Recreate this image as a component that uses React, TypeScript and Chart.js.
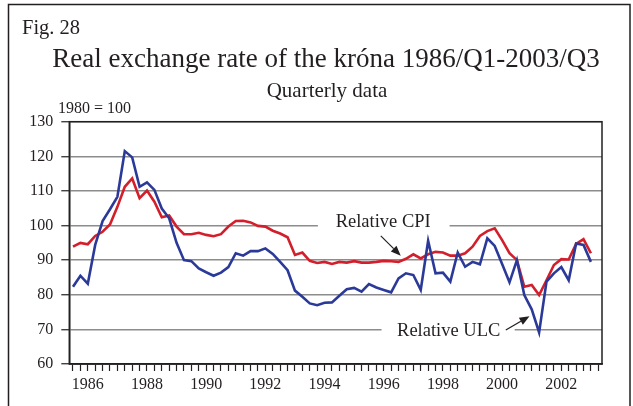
import React, { useEffect, useRef } from 'react';
import { Chart, registerables } from 'chart.js';

Chart.register(...registerables);

const FONT = '"Liberation Serif", "Times New Roman", serif';
const INK = '#231f20';

const years = [1986, 1987, 1988, 1989, 1990, 1991, 1992, 1993, 1994, 1995, 1996, 1997, 1998, 1999, 2000, 2001, 2002, 2003];
const quarters = ['Q1', 'Q2', 'Q3', 'Q4'];
const shownYears = ['1986', '1988', '1990', '1992', '1994', '1996', '1998', '2000', '2002'];
const yTickValues = [60, 70, 80, 90, 100, 110, 120, 130];

// Relative unit labour cost (blue)
const relativeULC = [
  82.3, 85.5, 83.2, 94.4, 101.3, 104.7, 108.3, 121.5,
  119.7, 111.2, 112.5, 110.3, 104.9, 102.1, 95.0, 90.0,
  89.7, 87.6, 86.5, 85.5, 86.4, 88.0, 92.0, 91.3,
  92.6, 92.6, 93.4, 91.8, 89.5, 87.1, 81.2, 79.4,
  77.5, 77.0, 77.7, 77.8, 79.7, 81.6, 82.0, 80.9,
  83.1, 82.1, 81.4, 80.7, 84.7, 86.2, 85.7, 81.4,
  95.6, 86.2, 86.4, 83.8, 92.2, 88.1, 89.5, 88.8,
  96.3, 94.1, 88.9, 83.6, 90.0, 79.9, 75.8, 69.1,
  83.8, 86.2, 88.0, 84.2, 94.8, 94.4, 89.5, null,
];

// Relative consumer prices (red)
const relativeCPI = [
  93.9, 95.0, 94.6, 97.0, 98.2, 100.3, 105.4, 111.2,
  113.6, 107.9, 110.1, 106.9, 102.4, 102.9, 99.7, 97.5,
  97.5, 97.9, 97.3, 96.9, 97.5, 99.7, 101.3, 101.4,
  100.9, 99.9, 99.7, 98.5, 97.7, 96.6, 91.5, 92.2,
  89.8, 89.2, 89.5, 88.9, 89.5, 89.3, 89.7, 89.3,
  89.3, 89.5, 89.8, 89.7, 89.5, 90.4, 91.7, 90.5,
  91.7, 92.4, 92.2, 91.3, 91.3, 92.0, 93.9, 97.0,
  98.4, 99.2, 95.8, 92.0, 90.0, 82.3, 82.8, 79.9,
  84.2, 88.6, 90.3, 90.2, 94.7, 96.1, 92.0, null,
];

const labels: string[] = [];
years.forEach((yr) => quarters.forEach((q) => labels.push(`${yr}/${q}`)));

function arrow(ctx: CanvasRenderingContext2D, x1: number, y1: number, x2: number, y2: number) {
  const ang = Math.atan2(y2 - y1, x2 - x1);
  const head = 10;
  const half = 4;
  const bx = x2 - head * Math.cos(ang);
  const by = y2 - head * Math.sin(ang);
  ctx.beginPath();
  ctx.moveTo(x1, y1);
  ctx.lineTo(bx, by);
  ctx.strokeStyle = INK;
  ctx.lineWidth = 1.2;
  ctx.stroke();
  ctx.beginPath();
  ctx.moveTo(x2, y2);
  ctx.lineTo(bx + half * Math.sin(ang), by - half * Math.cos(ang));
  ctx.lineTo(bx - half * Math.sin(ang), by + half * Math.cos(ang));
  ctx.closePath();
  ctx.fillStyle = INK;
  ctx.fill();
}

const decor = {
  id: 'decor',
  beforeDatasetsDraw(chart: any) {
    const { ctx, scales } = chart;
    const x = scales.x;
    const y = scales.y;
    const px = (i: number) => x.getPixelForValue(i);
    const py = (v: number) => y.getPixelForValue(v);
    ctx.save();
    ctx.fillStyle = '#ffffff';
    // gaps in the gridlines behind the series labels
    ctx.fillRect(px(33.1), py(100) - 3, px(50.9) - px(33.1), 6);
    ctx.fillRect(px(41.7), py(70) - 3, px(59.7) - px(41.7), 6);
    ctx.restore();
  },
  afterDraw(chart: any) {
    const { ctx, chartArea, scales } = chart;
    const x = scales.x;
    const y = scales.y;
    const px = (i: number) => x.getPixelForValue(i);
    const py = (v: number) => y.getPixelForValue(v);
    ctx.save();
    // plot frame
    ctx.strokeStyle = INK;
    ctx.lineWidth = 1.5;
    ctx.strokeRect(chartArea.left, chartArea.top, chartArea.right - chartArea.left, chartArea.bottom - chartArea.top);
    // outer figure frame
    ctx.beginPath();
    ctx.moveTo(8.5, 406);
    ctx.lineTo(8.5, 4.5);
    ctx.lineTo(630, 4.5);
    ctx.lineTo(630, 406);
    ctx.stroke();

    ctx.fillStyle = INK;
    ctx.textBaseline = 'alphabetic';
    ctx.textAlign = 'left';
    ctx.font = `20.5px ${FONT}`;
    ctx.fillText('Fig. 28', 22, 34);
    ctx.textAlign = 'center';
    ctx.font = `27px ${FONT}`;
    ctx.fillText('Real exchange rate of the króna 1986/Q1-2003/Q3', 326, 67);
    ctx.font = `21px ${FONT}`;
    ctx.fillText('Quarterly data', 327, 97);
    ctx.textAlign = 'left';
    ctx.font = `16px ${FONT}`;
    ctx.fillText('1980 = 100', 58, 113);

    ctx.font = `18.5px ${FONT}`;
    ctx.fillText('Relative CPI', px(35.5), py(99.7));
    ctx.fillText('Relative ULC', px(43.8), py(68.1));
    arrow(ctx, px(41.6), py(97.0), px(44.3), py(91.3));
    arrow(ctx, px(58.5), py(69.8), px(61.7), py(73.8));
    ctx.restore();
  },
};

export default function App() {
  const ref = useRef<HTMLCanvasElement | null>(null);
  useEffect(() => {
    if (!ref.current) return;
    const chart = new Chart(ref.current, {
      type: 'line',
      data: {
        labels,
        datasets: [
          {
            label: 'Relative ULC',
            data: relativeULC,
            borderColor: '#2b3a98',
            borderWidth: 2.6,
            pointRadius: 0,
            tension: 0,
            fill: false,
          },
          {
            label: 'Relative CPI',
            data: relativeCPI,
            borderColor: '#d21f2b',
            borderWidth: 2.6,
            pointRadius: 0,
            tension: 0,
            fill: false,
          },
        ],
      },
      options: {
        animation: false,
        responsive: true,
        maintainAspectRatio: false,
        layout: { padding: { top: 121.7, left: 0, right: 31, bottom: 0 } },
        plugins: {
          legend: { display: false },
          tooltip: { enabled: false },
          title: { display: false },
        },
        scales: {
          x: {
            type: 'category',
            offset: true,
            grid: {
              display: true,
              drawOnChartArea: false,
              drawTicks: true,
              tickLength: 7,
              tickColor: INK,
              tickWidth: 1.2,
              offset: false,
            },
            border: { display: true, color: INK, width: 1.5 },
            ticks: {
              autoSkip: false,
              maxRotation: 0,
              minRotation: 0,
              padding: 4,
              color: INK,
              font: { family: FONT, size: 16 },
              callback: (_v: any, i: number) => {
                if (i % 4 !== 2) return '';
                const yr = labels[i].slice(0, 4);
                return shownYears.includes(yr) ? yr : '';
              },
            },
            afterFit: (s: any) => {
              s.height = 42;
            },
          },
          y: {
            min: 60,
            max: 130,
            afterBuildTicks: (s: any) => {
              s.ticks = yTickValues.map((v) => ({ value: v }));
            },
            grid: {
              color: '#8c8c8c',
              lineWidth: 1.5,
              drawTicks: true,
              tickLength: 8,
              tickColor: INK,
              tickWidth: 1.2,
            },
            border: { display: true, color: INK, width: 1.5 },
            ticks: {
              padding: 8,
              color: INK,
              font: { family: FONT, size: 16 },
            },
            afterFit: (s: any) => {
              s.width = 69.3;
            },
          },
        },
      },
      plugins: [decor],
    });
    return () => chart.destroy();
  }, []);
  return (
    <div style={{ position: 'absolute', left: 0, top: 0, width: 633, height: 406, background: '#fff' }}>
      <canvas ref={ref} />
    </div>
  );
}
